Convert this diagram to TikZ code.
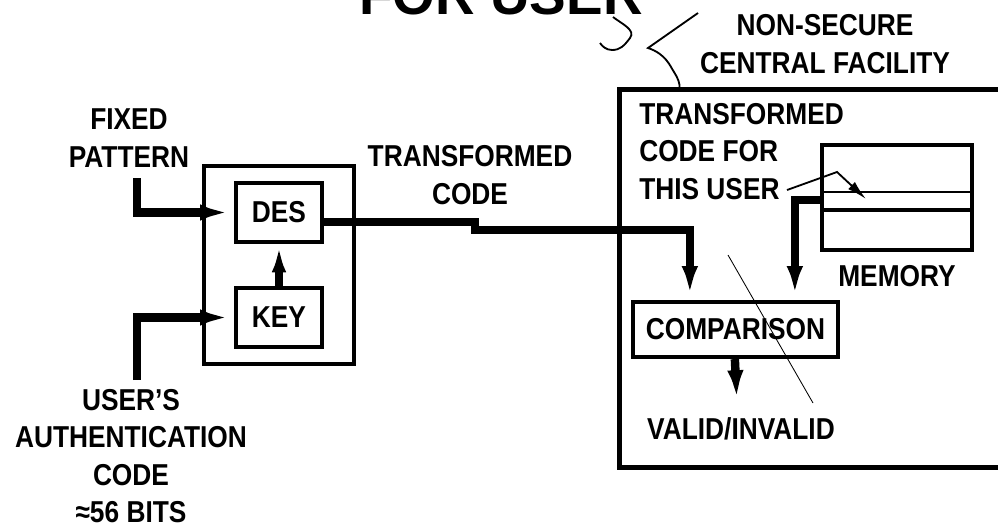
\documentclass[tikz,border=0pt]{standalone}
\usepackage{fontspec}
\setmainfont{Liberation Sans}[FakeStretch=0.87]
\newfontfamily\titlefont{Liberation Sans}
\usetikzlibrary{arrows.meta,calc,fit}
\tikzset{
  block/.style={draw, line width=3pt, minimum width=2.15cm, minimum height=1.475cm, inner sep=0pt, font=\bfseries\fontsize{21.5}{26.7}\selectfont},
  lbl/.style={align=center, inner sep=0pt, font=\bfseries\fontsize{21.5}{26.7}\selectfont},
  wire/.style={line width=6pt},
  feed/.style={wire, -{Latex[length=24pt,width=11pt]}},
  leader/.style={line width=1.3pt}
}
\begin{document}
\begin{tikzpicture}[x=0.025cm, y=-0.025cm]
  \useasboundingbox (0,0) rectangle (998,529);

  % title, cut off at the top edge
  \node[font=\titlefont\bfseries\fontsize{39}{40}\selectfont, anchor=base, inner sep=0pt] (title) at (501,14) {FOR USER};

  % user side
  \node[block] (des) at (279,212.5) {DES};
  \node[block] (key) at (279,317.5) {KEY};
  \node[draw, line width=3pt, fit=(des)(key), inner xsep=0.75cm, inner ysep=0.375cm] (unit) {};
  \node[lbl] (fixed) at (129,138) {FIXED\\PATTERN};
  \node[lbl] (auth) at (131,456) {USER'S\\AUTHENTICATION\\CODE\\≈56 BITS};
  \node[lbl] (tcode) at (470,175) {TRANSFORMED\\CODE};
  \coordinate (patsrc) at (137,178);
  \coordinate (authsrc) at (137,380);

  % central facility
  \node[draw, line width=3.5pt, minimum width=9.75cm, minimum height=9.425cm] (facility) at (815,278.5) {};
  \node[lbl] (nonsec) at (825,44) {NON-SECURE\\CENTRAL FACILITY};
  \node[lbl, align=left, anchor=north west] (stored) at (639,103) {TRANSFORMED\\CODE FOR\\THIS USER};
  \node[draw, line width=2.5pt, minimum width=3.75cm, minimum height=2.625cm] (memory) at (897,197.5) {};
  \node[lbl] (memlbl) at (897,276) {MEMORY};
  \node[block, minimum width=5.125cm, minimum height=1.375cm] (cmp) at (735.5,329.5) {COMPARISON};
  \node[lbl] (result) at (741,428.5) {VALID/INVALID};
  \coordinate (thisuser) at (787,190);
  \coordinate (nstip) at (698,13);

  % memory slots
  \draw[line width=1.5pt] (memory.west |- 0,192) -- (memory.east |- 0,192);
  \draw[line width=2.5pt] (memory.west |- 0,210) -- (memory.east |- 0,210);

  % signal paths
  \draw[feed] (patsrc) |- (des.west);
  \draw[feed] (authsrc) |- (key.west);
  \draw[wire, -{Latex[length=20pt,width=10pt]}] (key) -- (des);
  \draw[feed] ($(des.east)+(0,9.5)$) -- ++(151,0) -- ++(0,8) -| ($(cmp.north west)+(59,0)$);
  \draw[feed] ($(memory.west)+(0,2.5)$) -| ($(cmp.north west)+(164,0)$);
  \draw[feed] ($(cmp.south west)+(104,0)$) -- ($(result.north)+(-4,-13)$);

  % pointers
  \draw[leader, -{Latex[length=14pt,width=7pt]}] (thisuser) -- (837,172) -- (866,199);
  \draw[leader] (nstip) -- (648,48) .. controls (666,54) and (670,66) .. (674,72) .. controls (678,78) and (680,84) .. ($(facility.north west)+(62,0)$);
  \draw[leader] (613,17) .. controls (622,24) and (636,30) .. (630,38) .. controls (624,46) and (620,50) .. (612,50) .. controls (606,50) and (602,46) .. (600,43);
  \draw[line width=0.6pt] (728,255) -- (813,403);
\end{tikzpicture}
\end{document}
